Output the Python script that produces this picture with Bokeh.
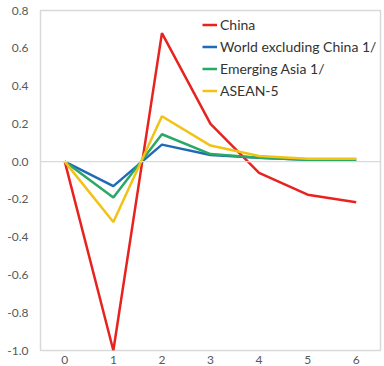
from bokeh.plotting import figure
from bokeh.models import FixedTicker, NumeralTickFormatter, Span, Legend, LegendItem
from bokeh.embed import file_html
from bokeh.resources import INLINE

x = [0, 1, 2, 3, 4, 5, 6]
china = [0.0, -1.0, 0.68, 0.20, -0.06, -0.175, -0.215]
world = [0.0, -0.13, 0.09, 0.035, 0.02, 0.01, 0.01]
em_asia = [0.0, -0.19, 0.145, 0.04, 0.02, 0.01, 0.01]
asean5 = [0.0, -0.32, 0.24, 0.085, 0.03, 0.015, 0.015]
y_ticks = [-1.0, -0.8, -0.6, -0.4, -0.2, 0.0, 0.2, 0.4, 0.6, 0.8]

p = figure(width=384, height=366, x_range=(-0.5, 6.5), y_range=(-1.0, 0.8),
           output_backend="svg", toolbar_location=None,
           min_border_left=40, min_border_top=10, min_border_right=4, min_border_bottom=0)

p.outline_line_color = "#d9d9d9"
p.outline_line_width = 1.5
p.xgrid.visible = False
p.ygrid.visible = False
p.background_fill_color = "white"

for ax in (p.xaxis, p.yaxis):
    ax.axis_line_color = None
    ax.major_tick_line_color = None
    ax.minor_tick_line_color = None
    ax.major_tick_out = 0
    ax.major_tick_in = 0
    ax.major_label_text_color = "#595959"
    ax.major_label_text_font = "Lato"
    ax.major_label_text_font_size = "12px"

p.yaxis.ticker = FixedTicker(ticks=y_ticks)
p.yaxis.formatter = NumeralTickFormatter(format="0.0")
p.yaxis.major_label_standoff = 12
p.xaxis.ticker = FixedTicker(ticks=x)
p.xaxis.major_label_standoff = 5

p.add_layout(Span(location=0, dimension="width", line_color="#d9d9d9", line_width=1.2))

r1 = p.line(x, china, line_color="#e8231f", line_width=2.5)
r2 = p.line(x, world, line_color="#1f6bb5", line_width=2.5)
r3 = p.line(x, em_asia, line_color="#2aa866", line_width=2.5)
r4 = p.line(x, asean5, line_color="#f2c214", line_width=2.5)

legend = Legend(items=[
    LegendItem(label="China", renderers=[r1]),
    LegendItem(label="World excluding China 1/", renderers=[r2]),
    LegendItem(label="Emerging Asia 1/", renderers=[r3]),
    LegendItem(label="ASEAN-5", renderers=[r4]),
], location=(162, 249))
legend.background_fill_alpha = 0
legend.border_line_color = None
legend.margin = 0
legend.padding = 4
legend.spacing = 1
legend.glyph_width = 15
legend.glyph_height = 21
legend.label_height = 21
legend.label_standoff = 3
legend.label_text_font = "Lato"
legend.label_text_font_size = "14px"
legend.label_text_color = "#333333"
p.add_layout(legend)

open("out.html", "w").write(file_html(p, INLINE))
